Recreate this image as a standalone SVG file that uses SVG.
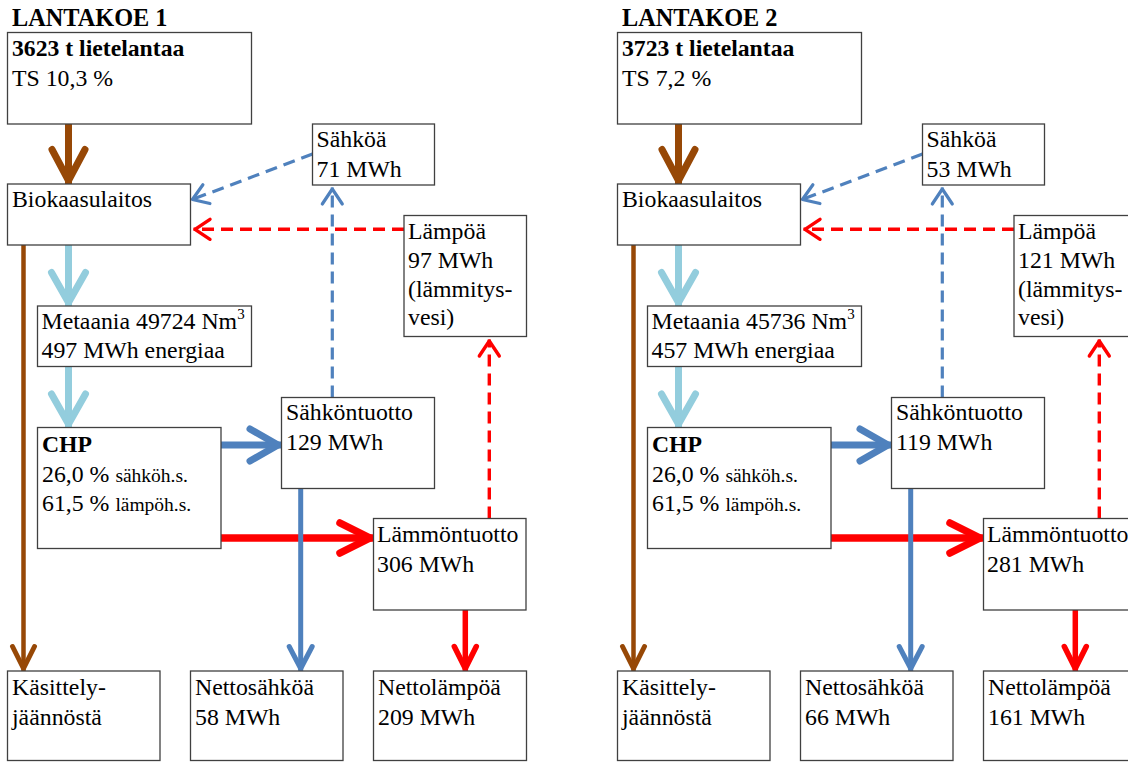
<svg xmlns="http://www.w3.org/2000/svg" width="1128" height="762" viewBox="0 0 1128 762">
<style>
.box{fill:#fff;stroke:#404040;stroke-width:1.3}
.t{font-family:"Liberation Serif","Times New Roman",Tinos,serif;font-size:23.8px;fill:#000}
.b{font-weight:bold;font-size:23.7px}
.s{font-size:19.5px}
.title{font-family:"Liberation Serif","Times New Roman",Tinos,serif;font-size:24.3px;font-weight:bold;fill:#000}
.c{fill:none}
.brownBig{stroke:#974806;stroke-width:7}
.brownSmall{stroke:#974806;stroke-width:4.5}
.lb{stroke:#93cddd;stroke-width:7}
.blueBig{stroke:#4f81bd;stroke-width:7}
.blueSmall{stroke:#4f81bd;stroke-width:5}
.redBig{stroke:#ff0000;stroke-width:7.5}
.redSmall{stroke:#ff0000;stroke-width:5.5}
.blueDash{stroke:#4f81bd;stroke-width:3.2;stroke-dasharray:12 7}
.redDash{stroke:#ff0000;stroke-width:3.4;stroke-dasharray:12 7}
</style>
<defs>
<marker id="mBrownBig" markerUnits="userSpaceOnUse" orient="auto" refX="0" refY="0" markerWidth="1" markerHeight="1" style="overflow:visible"><path d="M-34.5,-16.5 L-3.5,0 L-34.5,16.5" fill="none" stroke="#974806" stroke-width="7" stroke-linecap="round" stroke-linejoin="round"/></marker>
<marker id="mBrownSmall" markerUnits="userSpaceOnUse" orient="auto" refX="0" refY="0" markerWidth="1" markerHeight="1" style="overflow:visible"><path d="M-24.5,-11 L-2.5,0 L-24.5,11" fill="none" stroke="#974806" stroke-width="5" stroke-linecap="round" stroke-linejoin="round"/></marker>
<marker id="mLb" markerUnits="userSpaceOnUse" orient="auto" refX="0" refY="0" markerWidth="1" markerHeight="1" style="overflow:visible"><path d="M-33.5,-17 L-3.5,0 L-33.5,17" fill="none" stroke="#93cddd" stroke-width="7" stroke-linecap="round" stroke-linejoin="round"/></marker>
<marker id="mBlueBig" markerUnits="userSpaceOnUse" orient="auto" refX="0" refY="0" markerWidth="1" markerHeight="1" style="overflow:visible"><path d="M-31.5,-16 L-3.5,0 L-31.5,16" fill="none" stroke="#4f81bd" stroke-width="7" stroke-linecap="round" stroke-linejoin="round"/></marker>
<marker id="mBlueSmall" markerUnits="userSpaceOnUse" orient="auto" refX="0" refY="0" markerWidth="1" markerHeight="1" style="overflow:visible"><path d="M-24.5,-11.5 L-2.5,0 L-24.5,11.5" fill="none" stroke="#4f81bd" stroke-width="5" stroke-linecap="round" stroke-linejoin="round"/></marker>
<marker id="mRedBig" markerUnits="userSpaceOnUse" orient="auto" refX="0" refY="0" markerWidth="1" markerHeight="1" style="overflow:visible"><path d="M-33.5,-15 L-3.5,0 L-33.5,15" fill="none" stroke="#ff0000" stroke-width="7.5" stroke-linecap="round" stroke-linejoin="round"/></marker>
<marker id="mRedSmall" markerUnits="userSpaceOnUse" orient="auto" refX="0" refY="0" markerWidth="1" markerHeight="1" style="overflow:visible"><path d="M-24.5,-11 L-2.5,0 L-24.5,11" fill="none" stroke="#ff0000" stroke-width="5.5" stroke-linecap="round" stroke-linejoin="round"/></marker>
<marker id="mBlueDash" markerUnits="userSpaceOnUse" orient="auto" refX="0" refY="0" markerWidth="1" markerHeight="1" style="overflow:visible"><path d="M-16.5,-10 L-1.5,0 L-16.5,10" fill="none" stroke="#4f81bd" stroke-width="3.2" stroke-linecap="round" stroke-linejoin="round"/></marker>
<marker id="mRedDash" markerUnits="userSpaceOnUse" orient="auto" refX="0" refY="0" markerWidth="1" markerHeight="1" style="overflow:visible"><path d="M-16.5,-10 L-1.5,0 L-16.5,10" fill="none" stroke="#ff0000" stroke-width="3.4" stroke-linecap="round" stroke-linejoin="round"/></marker>
</defs>
<rect width="1128" height="762" fill="#fff"/>

<g id="panel1">
  <text id="title1" class="title" x="12" y="26">LANTAKOE 1</text>
  <g id="connectors1">
    <path class="c brownBig" d="M68.5,124 V184" marker-end="url(#mBrownBig)"/>
    <path class="c brownSmall" d="M23.5,245 V671" marker-end="url(#mBrownSmall)"/>
    <path class="c lb" d="M68.5,245 V306" marker-end="url(#mLb)"/>
    <path class="c lb" d="M68.5,366.5 V427.5" marker-end="url(#mLb)"/>
    <path class="c blueBig" d="M221,445 H281.5" marker-end="url(#mBlueBig)"/>
    <path class="c redBig" d="M221,538 H373.5" marker-end="url(#mRedBig)"/>
    <path class="c blueSmall" d="M300.7,488.5 V671" marker-end="url(#mBlueSmall)"/>
    <path class="c redSmall" d="M465.3,610 V671" marker-end="url(#mRedSmall)"/>
    <path class="c blueDash" d="M312.5,154 L191,200" marker-end="url(#mBlueDash)"/>
    <path class="c redDash" d="M404,229.3 H193.5" marker-end="url(#mRedDash)"/>
    <path class="c blueDash" d="M332.3,397.5 V187.5" marker-end="url(#mBlueDash)"/>
    <path class="c redDash" d="M489.3,518.5 V339.5" marker-end="url(#mRedDash)"/>
  </g>
  <g id="feed1"><rect class="box" x="7.5" y="32.5" width="244" height="91.5"/>
    <text class="t b" x="12" y="56">3623 t lietelantaa</text>
    <text class="t" x="12" y="86">TS 10,3 %</text></g>
  <g id="biogas1"><rect class="box" x="7.5" y="184" width="183" height="61"/>
    <text class="t" x="12" y="207.3">Biokaasulaitos</text></g>
  <g id="elec1"><rect class="box" x="312.5" y="124" width="122" height="61"/>
    <text class="t" x="316.5" y="146.7">Sähköä</text>
    <text class="t" x="316.5" y="176.7">71 MWh</text></g>
  <g id="heat1"><rect class="box" x="404" y="215.5" width="122.5" height="121"/>
    <text class="t" x="408" y="239.3">Lämpöä</text>
    <text class="t" x="408" y="268.3">97 MWh</text>
    <text class="t" x="408" y="296.7">(lämmitys-</text>
    <text class="t" x="408" y="325">vesi)</text></g>
  <g id="methane1"><rect class="box" x="37.5" y="306" width="214" height="60.5"/>
    <text class="t" x="41.5" y="329.3">Metaania 49724 Nm<tspan font-size="15" dy="-10.5">3</tspan></text>
    <text class="t" x="41.5" y="358.3">497 MWh energiaa</text></g>
  <g id="chp1"><rect class="box" x="37.5" y="427.5" width="183.5" height="121"/>
    <text class="t b" x="42" y="451.7">CHP</text>
    <text class="t" x="42" y="481.7">26,0 % <tspan class="s">sähköh.s.</tspan></text>
    <text class="t" x="42" y="510.7">61,5 % <tspan class="s">lämpöh.s.</tspan></text></g>
  <g id="elecprod1"><rect class="box" x="281.5" y="397.5" width="153" height="91"/>
    <text class="t" x="286" y="420">Sähköntuotto</text>
    <text class="t" x="286" y="450">129 MWh</text></g>
  <g id="heatprod1"><rect class="box" x="373.5" y="518.5" width="152.5" height="91.5"/>
    <text class="t" x="377" y="541.7">Lämmöntuotto</text>
    <text class="t" x="377" y="571.7">306 MWh</text></g>
  <g id="residue1"><rect class="box" x="7.5" y="671" width="152.5" height="89.5"/>
    <text class="t" x="12" y="695">Käsittely-</text>
    <text class="t" x="12" y="725">jäännöstä</text></g>
  <g id="netelec1"><rect class="box" x="190.5" y="671" width="152.5" height="89.5"/>
    <text class="t" x="195" y="695">Nettosähköä</text>
    <text class="t" x="195" y="725">58 MWh</text></g>
  <g id="netheat1"><rect class="box" x="373.5" y="671" width="153" height="89.5"/>
    <text class="t" x="378" y="695">Nettolämpöä</text>
    <text class="t" x="378" y="725">209 MWh</text></g>
</g>

<g id="panel2" transform="translate(610,0)">
  <text id="title2" class="title" x="12" y="26">LANTAKOE 2</text>
  <g id="connectors2">
    <path class="c brownBig" d="M68.5,124 V184" marker-end="url(#mBrownBig)"/>
    <path class="c brownSmall" d="M23.5,245 V671" marker-end="url(#mBrownSmall)"/>
    <path class="c lb" d="M68.5,245 V306" marker-end="url(#mLb)"/>
    <path class="c lb" d="M68.5,366.5 V427.5" marker-end="url(#mLb)"/>
    <path class="c blueBig" d="M221,445 H281.5" marker-end="url(#mBlueBig)"/>
    <path class="c redBig" d="M221,538 H373.5" marker-end="url(#mRedBig)"/>
    <path class="c blueSmall" d="M300.7,488.5 V671" marker-end="url(#mBlueSmall)"/>
    <path class="c redSmall" d="M465.3,610 V671" marker-end="url(#mRedSmall)"/>
    <path class="c blueDash" d="M312.5,154 L191,200" marker-end="url(#mBlueDash)"/>
    <path class="c redDash" d="M404,229.3 H193.5" marker-end="url(#mRedDash)"/>
    <path class="c blueDash" d="M332.3,397.5 V187.5" marker-end="url(#mBlueDash)"/>
    <path class="c redDash" d="M489.3,518.5 V339.5" marker-end="url(#mRedDash)"/>
  </g>
  <g id="feed2"><rect class="box" x="7.5" y="32.5" width="244" height="91.5"/>
    <text class="t b" x="12" y="56">3723 t lietelantaa</text>
    <text class="t" x="12" y="86">TS 7,2 %</text></g>
  <g id="biogas2"><rect class="box" x="7.5" y="184" width="183" height="61"/>
    <text class="t" x="12" y="207.3">Biokaasulaitos</text></g>
  <g id="elec2"><rect class="box" x="312.5" y="124" width="122" height="61"/>
    <text class="t" x="316.5" y="146.7">Sähköä</text>
    <text class="t" x="316.5" y="176.7">53 MWh</text></g>
  <g id="heat2"><rect class="box" x="404" y="215.5" width="122.5" height="121"/>
    <text class="t" x="408" y="239.3">Lämpöä</text>
    <text class="t" x="408" y="268.3">121 MWh</text>
    <text class="t" x="408" y="296.7">(lämmitys-</text>
    <text class="t" x="408" y="325">vesi)</text></g>
  <g id="methane2"><rect class="box" x="37.5" y="306" width="214" height="60.5"/>
    <text class="t" x="41.5" y="329.3">Metaania 45736 Nm<tspan font-size="15" dy="-10.5">3</tspan></text>
    <text class="t" x="41.5" y="358.3">457 MWh energiaa</text></g>
  <g id="chp2"><rect class="box" x="37.5" y="427.5" width="183.5" height="121"/>
    <text class="t b" x="42" y="451.7">CHP</text>
    <text class="t" x="42" y="481.7">26,0 % <tspan class="s">sähköh.s.</tspan></text>
    <text class="t" x="42" y="510.7">61,5 % <tspan class="s">lämpöh.s.</tspan></text></g>
  <g id="elecprod2"><rect class="box" x="281.5" y="397.5" width="153" height="91"/>
    <text class="t" x="286" y="420">Sähköntuotto</text>
    <text class="t" x="286" y="450">119 MWh</text></g>
  <g id="heatprod2"><rect class="box" x="373.5" y="518.5" width="152.5" height="91.5"/>
    <text class="t" x="377" y="541.7">Lämmöntuotto</text>
    <text class="t" x="377" y="571.7">281 MWh</text></g>
  <g id="residue2"><rect class="box" x="7.5" y="671" width="152.5" height="89.5"/>
    <text class="t" x="12" y="695">Käsittely-</text>
    <text class="t" x="12" y="725">jäännöstä</text></g>
  <g id="netelec2"><rect class="box" x="190.5" y="671" width="152.5" height="89.5"/>
    <text class="t" x="195" y="695">Nettosähköä</text>
    <text class="t" x="195" y="725">66 MWh</text></g>
  <g id="netheat2"><rect class="box" x="373.5" y="671" width="153" height="89.5"/>
    <text class="t" x="378" y="695">Nettolämpöä</text>
    <text class="t" x="378" y="725">161 MWh</text></g>
</g>
</svg>
